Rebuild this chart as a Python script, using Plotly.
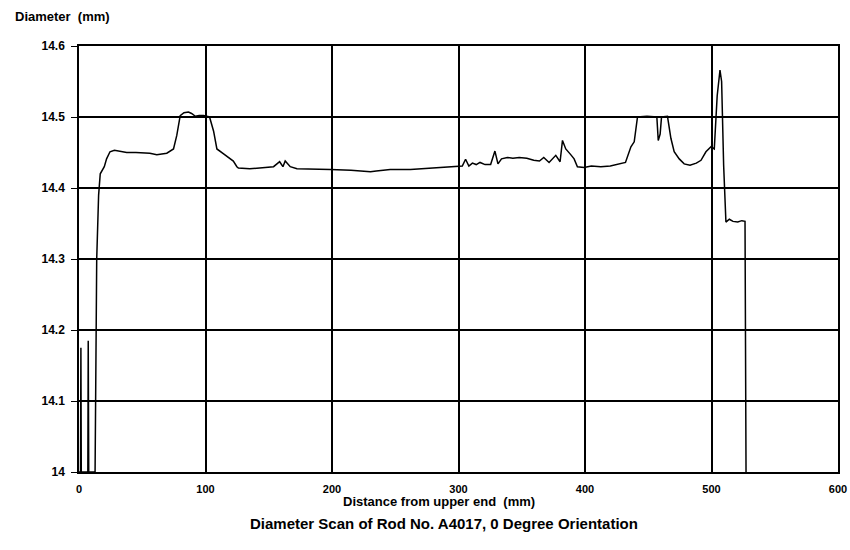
import plotly.graph_objects as go

distance_mm = [
    0, 1.2, 1.5, 1.8, 7.0, 7.3, 7.7, 12.7, 14.0, 15.5, 16.8, 18.5, 20.0, 21.8, 24.5,
    28.0, 31.0, 37.7, 45, 56, 61.5, 66, 69.4, 74.7, 77.3, 80.0, 83, 86.5, 89, 92,
    95, 98.4, 101, 103.2, 106.4, 109, 114.3, 119.6, 122, 124.8, 126, 135, 145,
    153.8, 158.6, 161.2, 163, 167, 172.3, 185, 198.7, 215, 230.4, 235, 246, 262,
    277.9, 290, 299, 303, 305.6, 308.2, 311, 314, 317, 321, 325.4, 328.8, 331.2,
    334, 338.6, 343, 348, 354, 359.5, 364, 367.4, 371.6, 376.9, 380.3, 382.2,
    384.8, 388.7, 391.4, 394, 399.3, 405, 412.5, 420, 428.3, 432, 436.3, 438.9,
    441.5, 449, 456.8, 457.9, 459.4, 460.5, 465.2, 467.9, 470.5, 474.5, 478.4,
    483, 488, 491.7, 495.6, 499.6, 502.2, 504.5, 506.7, 508, 509.6, 511.4, 514.1,
    517, 520.7, 524, 526.5, 527.3,
]
diameter_mm = [
    14.0, 14.0, 14.175, 14.0, 14.0, 14.185, 14.0, 14.0, 14.3, 14.39, 14.42, 14.425,
    14.43, 14.441, 14.451, 14.453, 14.452, 14.45, 14.45, 14.449, 14.447, 14.448,
    14.449, 14.455, 14.474, 14.502, 14.506, 14.507, 14.505, 14.501, 14.502, 14.502,
    14.501, 14.5, 14.48, 14.455, 14.448, 14.441, 14.438, 14.43, 14.428, 14.427,
    14.429, 14.43, 14.437, 14.43, 14.438, 14.43, 14.427, 14.427, 14.426, 14.425,
    14.423, 14.424, 14.426, 14.426, 14.428, 14.429, 14.4305, 14.431, 14.4405,
    14.431, 14.435, 14.433, 14.436, 14.433, 14.433, 14.452, 14.434, 14.441, 14.443,
    14.442, 14.443, 14.442, 14.439, 14.438, 14.443, 14.436, 14.446, 14.437, 14.467,
    14.455, 14.447, 14.441, 14.43, 14.429, 14.431, 14.43, 14.431, 14.434, 14.436,
    14.458, 14.465, 14.5, 14.501, 14.5, 14.467, 14.476, 14.5, 14.501, 14.47,
    14.451, 14.441, 14.434, 14.432, 14.435, 14.439, 14.451, 14.458, 14.455, 14.53,
    14.566, 14.55, 14.432, 14.352, 14.356, 14.353, 14.352, 14.354, 14.353, 14.0,
]

x_ticks = [0, 100, 200, 300, 400, 500, 600]
y_ticks = [14.0, 14.1, 14.2, 14.3, 14.4, 14.5, 14.6]

y_title = "Diameter  (mm)"
x_title = "Distance from upper end  (mm)"
chart_title = "Diameter Scan of Rod No. A4017, 0 Degree Orientation"

fig = go.Figure()
fig.add_trace(go.Scatter(
    x=distance_mm, y=diameter_mm, mode="lines",
    line=dict(color="black", width=1.5), showlegend=False,
))

font_family = "Liberation Sans, Arial, sans-serif"

fig.update_layout(
    width=850, height=550,
    margin=dict(l=79, r=12, t=46, b=78, autoexpand=False),
    paper_bgcolor="white", plot_bgcolor="white",
    font=dict(family=font_family, color="black", size=11, weight="bold"),
    xaxis=dict(
        range=[0, 600], tickvals=x_ticks, ticktext=[str(v) for v in x_ticks],
        showgrid=True, gridcolor="black", gridwidth=1.5,
        showline=True, linecolor="black", linewidth=1.5, mirror=True,
        ticks="", zeroline=False, ticklabelstandoff=6, automargin=False,
        tickfont=dict(size=11, weight="bold"),
    ),
    yaxis=dict(
        range=[14.0, 14.6], tickvals=y_ticks,
        ticktext=["14", "14.1", "14.2", "14.3", "14.4", "14.5", "14.6"],
        showgrid=True, gridcolor="black", gridwidth=1.5,
        showline=True, linecolor="black", linewidth=1.5, mirror=True,
        ticks="outside", ticklen=6, tickcolor="black", tickwidth=1,
        zeroline=False, ticklabelstandoff=4, automargin=False,
        tickfont=dict(size=12, weight="bold"),
    ),
    annotations=[
        dict(text=y_title, xref="paper", yref="paper",
             x=(13 - 79) / 759, y=(472 - 16) / 426, xanchor="left", yanchor="middle",
             showarrow=False, font=dict(size=13, weight="bold")),
        dict(text=x_title, xref="paper", yref="paper",
             x=(439 - 79) / 759, y=(472 - 502) / 426, xanchor="center", yanchor="middle",
             showarrow=False, font=dict(size=13, weight="bold")),
        dict(text=chart_title, xref="paper", yref="paper",
             x=(443.5 - 79) / 759, y=(472 - 523) / 426, xanchor="center", yanchor="middle",
             showarrow=False, font=dict(size=15, weight="bold")),
    ],
)

fig.write_html("out.html")
